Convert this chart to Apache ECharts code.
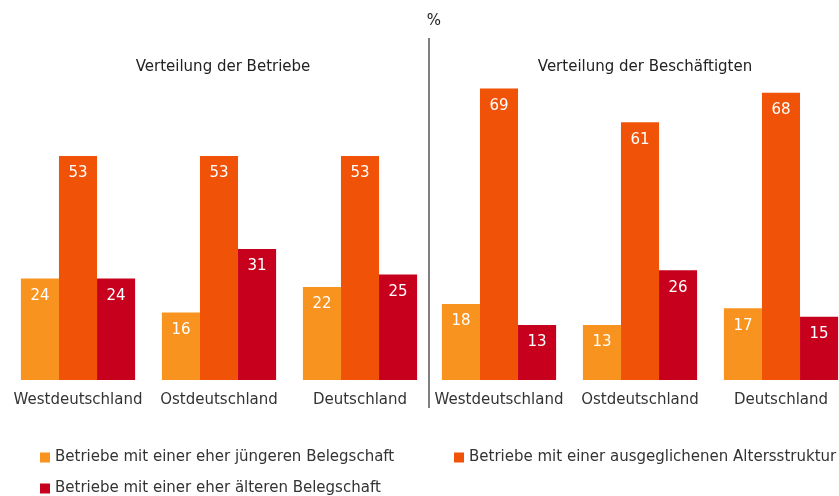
<!DOCTYPE html>
<html>
<head>
<meta charset="utf-8">
<script src="https://cdn.jsdelivr.net/npm/echarts@6/dist/echarts.min.js"></script>
<style>
  html, body { margin: 0; padding: 0; background: #fff; }
  #chart { width: 839px; height: 496px; }
</style>
</head>
<body>
<div id="chart"></div>
<script>
// Kategorien und Werte (in %)
const categories = ['Westdeutschland', 'Ostdeutschland', 'Deutschland'];
const seriesNames = [
  'Betriebe mit einer eher jüngeren Belegschaft',
  'Betriebe mit einer ausgeglichenen Altersstruktur',
  'Betriebe mit einer eher älteren Belegschaft'
];
const betriebeJung = [24, 16, 22];
const betriebeAusgeglichen = [53, 53, 53];
const betriebeAlt = [24, 31, 25];
const beschJung = [18, 13, 17];
const beschAusgeglichen = [69, 61, 68];
const beschAlt = [13, 26, 15];

const colors = ['#F7931E', '#F05308', '#C7001E'];
const font = 'DejaVu Sans, Verdana, sans-serif';

const chart = echarts.init(document.getElementById('chart'));

const makeSeries = (name, data, idx, color) => ({
  name: name,
  type: 'bar',
  xAxisIndex: idx,
  yAxisIndex: idx,
  data: data,
  barGap: '0%',
  barCategoryGap: '19%',
  itemStyle: { color: color },
  label: {
    show: true,
    position: 'insideTop',
    distance: 10,
    color: '#fff',
    fontSize: 15,
    fontFamily: font
  }
});

const legendItem = (name, left, top) => ({
  data: [name],
  left: left,
  top: top,
  padding: 0,
  itemWidth: 10,
  itemHeight: 10,
  icon: 'rect',
  textStyle: { fontSize: 15, color: '#333', fontFamily: font }
});

const opt = {
  animation: false,
  color: colors,
  textStyle: { fontFamily: font },
  title: [
    { text: 'Verteilung der Betriebe', left: 218, top: 55, textAlign: 'center',
      textStyle: { fontSize: 15, fontWeight: 'normal', color: '#222', fontFamily: font } },
    { text: 'Verteilung der Beschäftigten', left: 640, top: 55, textAlign: 'center',
      textStyle: { fontSize: 15, fontWeight: 'normal', color: '#222', fontFamily: font } },
    { text: '%', left: 429, top: 9, textAlign: 'center',
      textStyle: { fontSize: 15, fontWeight: 'normal', color: '#222', fontFamily: font } }
  ],
  legend: [
    legendItem(seriesNames[0], 40, 450),
    legendItem(seriesNames[1], 454, 450),
    legendItem(seriesNames[2], 40, 481)
  ],
  grid: [
    { left: 7.5, width: 423, top: 42, bottom: 116, outerBoundsMode: 'none' },
    { left: 428.5, width: 423, top: 42, bottom: 116, outerBoundsMode: 'none' }
  ],
  xAxis: [0, 1].map(i => ({
    type: 'category',
    gridIndex: i,
    data: categories,
    axisLine: { show: false },
    axisTick: { show: false },
    axisLabel: { interval: 0, margin: 13, fontSize: 15, color: '#333', fontFamily: font }
  })),
  yAxis: [0, 1].map(i => ({
    type: 'value',
    gridIndex: i,
    min: 0,
    max: 80,
    interval: 10,
    show: false,
    splitLine: { show: false }
  })),
  graphic: [
    {
      type: 'line',
      shape: { x1: 429, y1: 38, x2: 429, y2: 408 },
      style: { stroke: '#555', lineWidth: 1.5 }
    }
  ],
  series: [
    makeSeries(seriesNames[0], betriebeJung, 0, colors[0]),
    makeSeries(seriesNames[1], betriebeAusgeglichen, 0, colors[1]),
    makeSeries(seriesNames[2], betriebeAlt, 0, colors[2]),
    makeSeries(seriesNames[0], beschJung, 1, colors[0]),
    makeSeries(seriesNames[1], beschAusgeglichen, 1, colors[1]),
    makeSeries(seriesNames[2], beschAlt, 1, colors[2])
  ]
};

chart.setOption(opt);
</script>
</body>
</html>
